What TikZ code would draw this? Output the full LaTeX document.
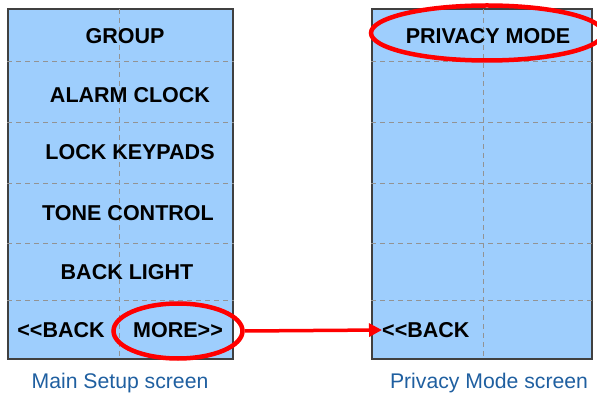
\documentclass[tikz,border=0pt]{standalone}
\usepackage{fontspec}
\setmainfont{Liberation Sans}
\usetikzlibrary{shapes.geometric,arrows.meta,positioning}
\definecolor{scrfill}{HTML}{9ECEFD}
\definecolor{capblue}{HTML}{1F5FA0}
\tikzstyle{screen} = [rectangle, draw=black!75, line width=1.1pt, fill=scrfill, minimum height=350pt, inner sep=0pt]
\tikzstyle{grid} = [gray!85, line width=0.9pt, dash pattern=on 5pt off 4pt]
\tikzstyle{btn} = [font=\bfseries\fontsize{21.5}{24}\selectfont, inner sep=0pt]
\tikzstyle{caption} = [text=capblue, font=\fontsize{21.2}{24}\selectfont, inner sep=0pt]
\tikzstyle{oval} = [ellipse, draw=red, line width=4.5pt, inner sep=0pt]
\tikzstyle{arrow} = [red, line width=3.5pt, -{Triangle[length=13pt,width=13pt]}]

\begin{document}
\begin{tikzpicture}[x=1pt, y=-1pt]
				\clip (0,0) rectangle (597,395);
				% the two screens
				\node (main) at (120.5,184) [screen, minimum width=225pt] {};
				\node (priv) at (482,184) [screen, minimum width=220pt] {};
				% cell grid
				\foreach \y in {61,122,183,243,300} {
					\draw[grid] (main.west |- 0,\y) -- (main.east |- 0,\y);
					\draw[grid] (priv.west |- 0,\y) -- (priv.east |- 0,\y);
				}
				\draw[grid] (119,9) -- (119,359);
				\draw[grid] (483,9) -- (483,359);
				% main setup buttons
				\node (group) at (125,36) [btn] {GROUP};
				\node (alarm) at (130,95) [btn] {ALARM CLOCK};
				\node (lock) at (130,152) [btn] {LOCK KEYPADS};
				\node (tone) at (128,213) [btn] {TONE CONTROL};
				\node (light) at (127,272) [btn] {BACK LIGHT};
				\node (mback) at (61,330) [btn] {<{}<BACK};
				\node (more) at (178,330) [btn] {MORE>{}>};
				% privacy mode buttons
				\node (privacy) at (488,36) [btn] {PRIVACY MODE};
				\node[anchor=west] (pback) at (382,330) [btn] {<{}<BACK};
				% highlights
				\node (moreoval) at (178,331) [oval, minimum width=129pt, minimum height=55pt] {};
				\node (privoval) at (487,33) [oval, minimum width=232pt, minimum height=55pt] {};
				\draw[arrow] (moreoval.east) -- (pback.west);
				% captions
				\node (maincap) at (120,383) [caption] {Main Setup screen};
				\node (privcap) at (489,383) [caption] {Privacy Mode screen};
\end{tikzpicture}
\end{document}
